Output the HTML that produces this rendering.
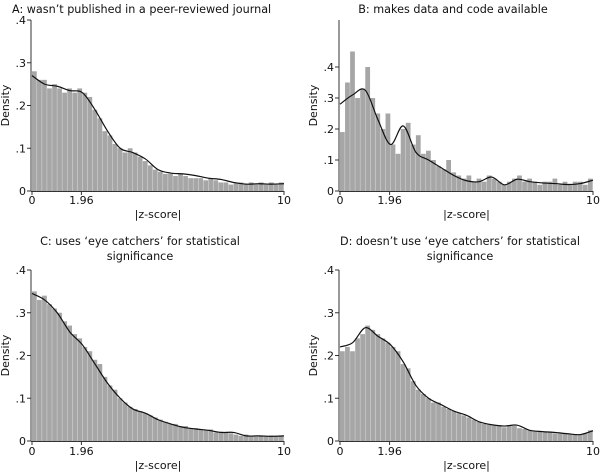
<!DOCTYPE html>
<html><head><meta charset="utf-8">
<style>
html,body{margin:0;padding:0;background:#fff;}
svg{display:block;font-family:"DejaVu Sans","Liberation Sans",sans-serif;}
.t{font-size:11.2px;fill:#111;}
.tk{font-size:11px;fill:#111;}
</style></head>
<body>
<svg id="chart" width="600" height="472" viewBox="0 0 600 472"></svg>
<script>
// bin width 0.2, |z| from 0 to 10
const binsA = [.28,.26,.26,.24,.25,.24,.23,.24,.23,.24,.23,.22,.19,.17,.14,.13,.11,.10,.09,.10,.09,.08,.07,.06,.05,.045,.04,.04,.035,.04,.035,.03,.03,.03,.025,.03,.025,.02,.02,.015,.02,.02,.015,.02,.015,.02,.015,.02,.015,.02];
const binsB = [.19,.35,.45,.30,.33,.40,.30,.25,.20,.25,.15,.12,.20,.22,.15,.18,.12,.13,.10,.08,.07,.10,.06,.05,.04,.05,.03,.04,.03,.05,.04,.03,.02,.03,.04,.05,.03,.04,.03,.02,.03,.03,.04,.02,.03,.02,.03,.03,.02,.04];
const binsC = [.35,.33,.34,.32,.31,.30,.28,.27,.25,.24,.22,.21,.19,.18,.15,.13,.12,.10,.09,.08,.075,.07,.065,.06,.055,.05,.045,.04,.04,.035,.035,.03,.03,.028,.025,.027,.02,.022,.02,.018,.015,.012,.015,.012,.01,.012,.011,.013,.01,.012];
const binsD = [.21,.22,.21,.24,.25,.27,.26,.25,.24,.23,.22,.21,.18,.17,.14,.12,.11,.10,.09,.09,.08,.075,.07,.065,.06,.055,.05,.045,.04,.038,.036,.035,.032,.036,.035,.03,.028,.025,.022,.022,.02,.02,.018,.02,.018,.015,.016,.014,.018,.025];
// kernel density at |z| = 0,0.5,...,10
const kdeA = [.27,.25,.245,.235,.23,.19,.14,.10,.09,.075,.05,.042,.04,.036,.03,.027,.02,.016,.017,.016,.017];
const kdeB = [.28,.31,.325,.23,.15,.21,.125,.10,.075,.05,.033,.03,.045,.02,.038,.03,.026,.024,.021,.024,.035];
const kdeC = [.345,.33,.30,.255,.225,.18,.135,.10,.075,.065,.05,.04,.032,.028,.025,.02,.02,.012,.012,.011,.012];
const kdeD = [.22,.23,.265,.245,.225,.185,.13,.10,.085,.07,.06,.045,.038,.035,.037,.025,.022,.02,.017,.015,.024];
const yTicks = [0,.1,.2,.3,.4];
const yTickLabels = ["0",".1",".2",".3",".4"];
const xTicks = [0,1.96,10];
const xTickLabels = ["0","1.96","10"];

const NS="http://www.w3.org/2000/svg";
const svg=document.getElementById('chart');
function mk(tag,attrs,parent){const e=document.createElementNS(NS,tag);for(const k in attrs)e.setAttribute(k,attrs[k]);(parent||svg).appendChild(e);return e;}

const panels=[
 {id:'a',bins:binsA,kde:kdeA,x0:32,x1:284,y0:191,y4:20,top:20,title:["A: wasn\u2019t published in a peer-reviewed journal"],tx:12,anchor:'start',ty:[13],tkY:204,labY:218,dens:9},
 {id:'b',bins:binsB,kde:kdeB,x0:340,x1:593,y0:191,y4:67,top:20,title:["B: makes data and code available"],tx:453,anchor:'middle',ty:[13],tkY:204,labY:218,dens:317},
 {id:'c',bins:binsC,kde:kdeC,x0:32,x1:284,y0:441,y4:270,top:270,title:["C: uses \u2018eye catchers\u2019 for statistical","significance"],tx:140,anchor:'middle',ty:[245,260],tkY:455,labY:469,dens:9},
 {id:'d',bins:binsD,kde:kdeD,x0:340,x1:593,y0:441,y4:270,top:270,title:["D: doesn\u2019t use \u2018eye catchers\u2019 for statistical","significance"],tx:460,anchor:'middle',ty:[245,260],tkY:455,labY:469,dens:317}
];

panels.forEach(p=>{
  const g=mk('g',{});
  
  
  const xs=v=>p.x0+(p.x1-p.x0)*v/10;
  const ys=v=>Math.max(p.top,p.y0-(p.y0-p.y4)*v/0.4);
  const bw=10/p.bins.length;
  p.bins.forEach((v,i)=>{
    const xa=xs(i*bw), xb=xs((i+1)*bw), yt=ys(v);
    const r=mk('rect',{x:xa,y:yt,width:xb-xa-0.3,height:p.y0-yt,fill:'#a6a6a6'},g);
    
    
  });
  const pts=p.kde.map((v,i)=>[xs(i*0.5),ys(v)]);
  let d='M'+pts[0][0]+','+pts[0][1];
  for(let i=0;i<pts.length-1;i++){
    const p0=pts[Math.max(0,i-1)],p1=pts[i],p2=pts[i+1],p3=pts[Math.min(pts.length-1,i+2)];
    const c1=[p1[0]+(p2[0]-p0[0])/6,p1[1]+(p2[1]-p0[1])/6];
    const c2=[p2[0]-(p3[0]-p1[0])/6,p2[1]-(p3[1]-p1[1])/6];
    d+=' C'+c1[0]+','+c1[1]+' '+c2[0]+','+c2[1]+' '+p2[0]+','+p2[1];
  }
  const k=mk('path',{d:d,fill:'none',stroke:'#111',"stroke-width":1.2},g);
  
  
  const ya=mk('line',{x1:p.x0-1,x2:p.x0-1,y1:p.top,y2:p.y0,stroke:'#333',"stroke-width":1},g);
  
  
  const xa=mk('line',{x1:p.x0-1,x2:p.x1,y1:p.y0+0.5,y2:p.y0+0.5,stroke:'#333',"stroke-width":1},g);
  
  
  yTicks.forEach((v,i)=>{
    const y=p.y0-(p.y0-p.y4)*v/0.4;
    mk('line',{x1:p.x0-5,x2:p.x0-1,y1:y,y2:y,stroke:'#333'},g);
    const t=mk('text',{x:p.x0-6,y:y+4,"text-anchor":'end',class:'tk'},g);
    t.textContent=yTickLabels[i];
    
    
  });
  xTicks.forEach((v,i)=>{
    const x=xs(v);
    mk('line',{x1:x,x2:x,y1:p.y0,y2:p.y0+4,stroke:'#333'},g);
    const t=mk('text',{x:x,y:p.tkY,"text-anchor":'middle',class:'tk'},g);
    t.textContent=xTickLabels[i];
    
    
  });
  const xl=mk('text',{x:(p.x0+p.x1)/2,y:p.labY,"text-anchor":'middle',class:'tk'},g);
  xl.textContent='|z-score|';
  
  
  const cy=(p.top+p.y0)/2;
  const yl=mk('text',{x:p.dens,y:cy,"text-anchor":'middle',class:'tk',transform:'rotate(-90 '+p.dens+' '+cy+')'},g);
  yl.textContent='Density';
  
  
  p.title.forEach((s,i)=>{
    const t=mk('text',{x:p.tx,y:p.ty[i],"text-anchor":p.anchor,class:'t'},g);
    t.textContent=s;
    
    
  });
});
</script>
</body></html>
